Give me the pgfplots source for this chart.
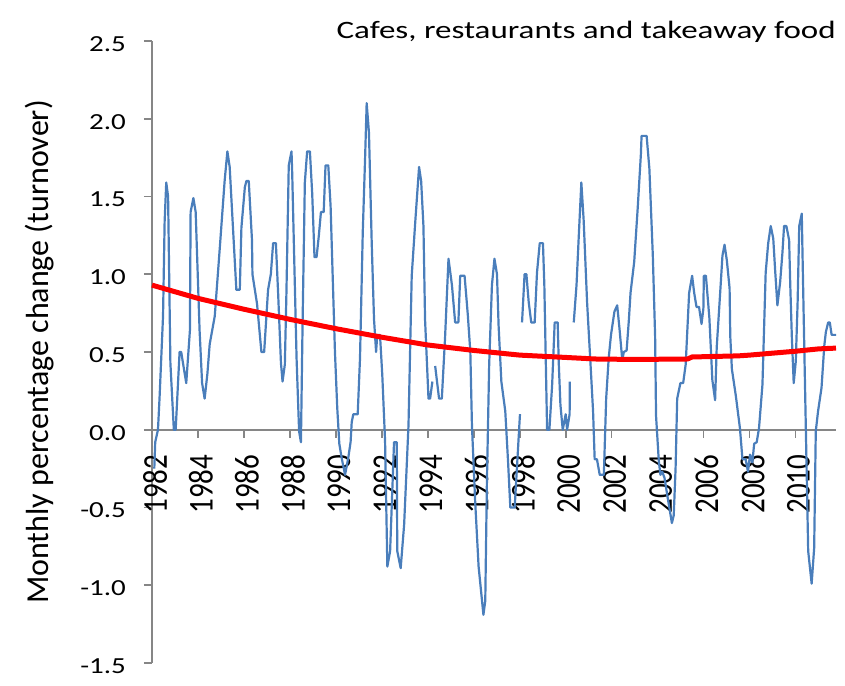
\documentclass[border=0pt]{standalone}
\usepackage{fontspec}
\setmainfont{Carlito}
\usepackage{graphicx}
\usepackage{pgfplots}
\pgfplotsset{compat=1.18}
\definecolor{xlblue}{RGB}{74,126,187}
\definecolor{axgray}{RGB}{134,134,134}

\begin{document}
\begin{tikzpicture}
\begin{axis}[
    name=ax,
    scale only axis,
    width=342pt, height=311pt,
    xmin=1982, xmax=2011.76,
    ymin=-1.5, ymax=2.5,
    clip=false,
    axis y line=left,
    axis x line=middle,
    hide obscured x ticks=false,
    hide obscured y ticks=false,
    axis line style={-, draw=axgray, line width=0.8pt},
    tick style={draw=axgray, line width=0.8pt},
    tick align=outside,
    major tick length=4pt,
    xtick={1982,1984,...,2010},
    ytick={-1.5,-1,-0.5,0,0.5,1,1.5,2,2.5},
    /pgf/number format/assume math mode=true,
    xticklabel={\scalebox{1}[1.2]{\pgfmathprintnumber[fixed,precision=0,1000 sep={}]{\tick}}},
    yticklabel={\scalebox{1.26}[1]{\pgfmathprintnumber[fixed,fixed zerofill,precision=1]{\tick}}},
    xticklabel style={yshift=-5pt, xshift=1.5pt, rotate=90, anchor=east,
        font=\fontsize{14.5}{17}\selectfont},
    yticklabel style={xshift=-5.5pt, yshift=-1.5pt, anchor=east,
        font=\fontsize{11.5}{14}\selectfont},
    ylabel={Monthly percentage change (turnover)},
    ylabel style={at={(rel axis cs:-0.165,0.5)}, anchor=center,
        font=\fontsize{16}{19}\selectfont},
    unbounded coords=jump,
]
% monthly change
\addplot[xlblue, line width=1.1pt, line join=round] coordinates {
(1982.10,-0.25) (1982.14,-0.08) (1982.26,0.00) (1982.33,0.21) (1982.48,0.73)
(1982.55,1.34) (1982.62,1.59) (1982.70,1.50) (1982.80,0.43) (1982.95,0.00)
(1983.03,0.00) (1983.20,0.50) (1983.27,0.50) (1983.49,0.30) (1983.65,0.64)
(1983.68,1.40) (1983.80,1.49) (1983.90,1.40) (1984.07,0.64) (1984.18,0.30)
(1984.29,0.20) (1984.41,0.36) (1984.51,0.55) (1984.73,0.73) (1984.95,1.17)
(1985.16,1.60) (1985.28,1.79) (1985.38,1.69) (1985.53,1.28) (1985.67,0.90)
(1985.82,0.90) (1985.89,1.30) (1986.04,1.56) (1986.11,1.60) (1986.21,1.60)
(1986.35,1.22) (1986.37,1.00) (1986.57,0.81) (1986.76,0.50) (1986.88,0.50)
(1987.05,0.90) (1987.17,1.00) (1987.27,1.20) (1987.39,1.20) (1987.49,0.87)
(1987.61,0.43) (1987.68,0.31) (1987.78,0.42) (1987.85,0.89) (1987.95,1.70)
(1988.07,1.79) (1988.10,1.65) (1988.29,0.46) (1988.40,-0.01) (1988.48,-0.08)
(1988.55,0.67) (1988.65,1.59) (1988.75,1.79) (1988.87,1.79) (1988.97,1.52)
(1989.07,1.11) (1989.16,1.11) (1989.26,1.25) (1989.35,1.40) (1989.47,1.40)
(1989.55,1.70) (1989.67,1.70) (1989.77,1.44) (1989.96,0.50) (1990.06,0.14)
(1990.15,-0.09) (1990.25,-0.18) (1990.40,-0.29) (1990.54,-0.18) (1990.64,-0.08)
(1990.69,0.05) (1990.76,0.10) (1990.95,0.10) (1991.05,0.46) (1991.17,1.27)
(1991.27,1.74) (1991.34,2.10) (1991.44,1.91) (1991.56,1.20) (1991.66,0.71)
(1991.75,0.50) (1991.80,0.61) (1991.92,0.61) (1992.02,0.35) (1992.14,-0.07)
(1992.24,-0.88) (1992.36,-0.78) (1992.48,-0.29) (1992.53,-0.08) (1992.65,-0.08)
(1992.67,-0.78) (1992.82,-0.89) (1992.97,-0.61) (1993.16,0.03) (1993.30,0.99)
(1993.46,1.35) (1993.62,1.69) (1993.71,1.60) (1993.81,1.31) (1993.88,0.71)
(1994.03,0.20) (1994.10,0.20) (1994.20,0.31)
(1994.26,nan)
(1994.32,0.41) (1994.49,0.20) (1994.61,0.20) (1994.75,0.59) (1994.90,1.10)
(1995.05,0.93) (1995.19,0.69) (1995.33,0.69) (1995.41,0.99) (1995.60,0.99)
(1995.74,0.74) (1995.85,0.50) (1995.92,0.03) (1996.06,-0.46) (1996.21,-0.88)
(1996.42,-1.19) (1996.50,-1.10) (1996.57,-0.35) (1996.67,0.42) (1996.79,0.93)
(1996.90,1.10) (1997.01,1.00) (1997.08,0.67) (1997.20,0.31) (1997.37,0.12)
(1997.49,-0.20) (1997.59,-0.50) (1997.78,-0.50) (1997.88,-0.24) (1998.01,0.10)
(1998.05,nan)
(1998.10,0.69) (1998.21,1.00) (1998.29,1.00) (1998.39,0.82) (1998.50,0.69)
(1998.65,0.69) (1998.75,1.01) (1998.87,1.20) (1999.01,1.20) (1999.07,0.93)
(1999.19,0.00) (1999.29,0.00) (1999.41,0.29) (1999.52,0.69) (1999.65,0.69)
(1999.70,0.42) (1999.77,0.16) (1999.87,0.00) (2000.00,0.10) (2000.06,0.00)
(2000.17,0.10) (2000.18,0.31)
(2000.26,nan)
(2000.35,0.69) (2000.47,0.93) (2000.57,1.25) (2000.68,1.59) (2000.78,1.35)
(2000.93,0.82) (2001.08,0.42) (2001.19,0.12) (2001.26,-0.19) (2001.36,-0.19)
(2001.48,-0.29) (2001.66,-0.29) (2001.76,0.20) (2001.87,0.46) (2001.97,0.61)
(2002.12,0.76) (2002.24,0.80) (2002.34,0.65) (2002.46,0.45) (2002.53,0.50)
(2002.65,0.51) (2002.75,0.71) (2002.82,0.88) (2002.98,1.08) (2003.13,1.42)
(2003.27,1.77) (2003.30,1.89) (2003.52,1.89) (2003.64,1.68) (2003.79,1.12)
(2003.89,0.60) (2003.93,0.09) (2004.05,-0.20) (2004.12,-0.29) (2004.20,-0.27)
(2004.30,-0.31) (2004.45,-0.45) (2004.62,-0.60) (2004.70,-0.55) (2004.78,-0.25)
(2004.85,0.20) (2004.99,0.30) (2005.11,0.30) (2005.22,0.42) (2005.37,0.88)
(2005.50,0.99) (2005.59,0.88) (2005.69,0.79) (2005.80,0.79) (2005.91,0.68)
(2005.99,0.78) (2006.01,0.99) (2006.10,0.99) (2006.25,0.72) (2006.38,0.32)
(2006.50,0.19) (2006.57,0.53) (2006.72,0.88) (2006.82,1.12) (2006.91,1.19)
(2007.01,1.09) (2007.13,0.91) (2007.16,0.60) (2007.23,0.39) (2007.40,0.22)
(2007.58,0.01) (2007.69,-0.19) (2007.83,-0.19) (2007.93,-0.27) (2008.02,-0.16)
(2008.12,-0.21) (2008.20,-0.09) (2008.31,-0.08) (2008.41,0.01) (2008.56,0.29)
(2008.70,1.01) (2008.81,1.20) (2008.92,1.31) (2009.03,1.23) (2009.11,1.03)
(2009.21,0.80) (2009.33,0.95) (2009.43,1.14) (2009.50,1.31) (2009.60,1.31)
(2009.72,1.22) (2009.77,0.93) (2009.84,0.59) (2009.92,0.30) (2010.01,0.44)
(2010.09,0.82) (2010.16,1.31) (2010.27,1.39) (2010.35,0.76) (2010.45,-0.01)
(2010.55,-0.78) (2010.70,-0.99) (2010.81,-0.76) (2010.88,-0.01) (2010.98,0.12)
(2011.13,0.27) (2011.25,0.54) (2011.32,0.63) (2011.42,0.69) (2011.49,0.69)
(2011.57,0.61) (2011.76,0.61)
};
% trend
\addplot[red, line width=2.5pt] coordinates {
(1982.0,0.93) (1984.0,0.845) (1986.0,0.775) (1988.0,0.71) (1990.0,0.65)
(1992.0,0.595) (1994.0,0.545) (1996.0,0.51) (1998.0,0.48) (2000.0,0.465)
(2001.3,0.455) (2003.0,0.452) (2005.3,0.455) (2005.5,0.468) (2007.5,0.475)
(2008.0,0.48) (2009.2,0.495) (2010.0,0.505) (2011.0,0.52) (2011.76,0.525)
};
\node[anchor=base east, inner sep=0pt]
    at (rel axis cs:1,1.004)
    {\scalebox{1.32}[1]{\fontsize{12.5}{15}\selectfont Cafes, restaurants and takeaway food}};
\end{axis}
\pgfresetboundingbox
\useasboundingbox ([shift={(-76pt,-11pt)}]ax.south west)
    rectangle ([shift={(4.5pt,20.5pt)}]ax.north east);
\end{tikzpicture}
\end{document}
